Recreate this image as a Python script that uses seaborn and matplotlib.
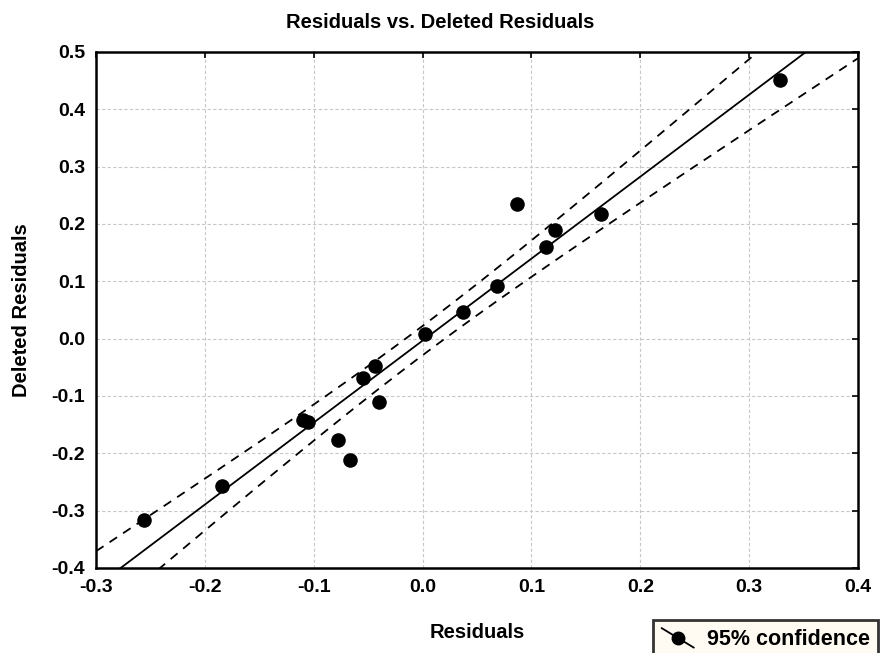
import numpy as np
import pandas as pd
import matplotlib
matplotlib.use("Agg")
import matplotlib.pyplot as plt
import seaborn as sns
from matplotlib.lines import Line2D
from matplotlib.legend_handler import HandlerBase

# ====================== DATA =======================
residuals = [-0.256, -0.184, -0.110, -0.105, -0.078, -0.067, -0.0545, -0.0435, -0.040,
             0.002, 0.037, 0.0685, 0.087, 0.113, 0.1215, 0.164, 0.328]
deleted = [-0.317, -0.257, -0.142, -0.146, -0.177, -0.212, -0.0695, -0.048, -0.111,
           0.0073, 0.0457, 0.0916, 0.2347, 0.160, 0.189, 0.2173, 0.451]
x_ticks = [-0.3, -0.2, -0.1, 0.0, 0.1, 0.2, 0.3, 0.4]
y_ticks = [-0.4, -0.3, -0.2, -0.1, 0.0, 0.1, 0.2, 0.3, 0.4, 0.5]
T_CRIT = 2.131  # t(0.975, df=15)

df = pd.DataFrame({"Residuals": residuals, "Deleted": deleted})

# ====================== FIT + 95% BAND =======================
x = df["Residuals"].to_numpy()
y = df["Deleted"].to_numpy()
n = len(x)
slope, intercept = np.polyfit(x, y, 1)
s = np.sqrt(np.sum((y - (slope * x + intercept)) ** 2) / (n - 2))
sxx = np.sum((x - x.mean()) ** 2)
xg = np.linspace(-0.3, 0.4, 200)
yg = slope * xg + intercept
half = T_CRIT * s * np.sqrt(1 / n + (xg - x.mean()) ** 2 / sxx)

# ====================== PLOT =======================
sns.set_style("white")
plt.rcParams["font.family"] = ["Liberation Sans", "DejaVu Sans"]
plt.rcParams["font.weight"] = "bold"
plt.rcParams["text.color"] = "black"
plt.rcParams["axes.labelcolor"] = "black"

fig = plt.figure(figsize=(8.8, 6.53), dpi=100)
ax = fig.add_axes([0.1091, 0.1302, 0.8659, 0.7902])

ax.plot(xg, yg, color="black", lw=1.3, zorder=3)
ax.plot(xg, yg + half, color="black", lw=1.3, ls=(0, (5, 4)), zorder=3)
ax.plot(xg, yg - half, color="black", lw=1.3, ls=(0, (5, 4)), zorder=3)
sns.scatterplot(data=df, x="Residuals", y="Deleted", color="black", s=110,
                edgecolor="black", linewidth=0, ax=ax, zorder=4, legend=False)

ax.set_xlim(-0.3, 0.4)
ax.set_ylim(-0.4, 0.5)
ax.set_xticks(x_ticks)
ax.set_yticks(y_ticks)
ax.set_xticklabels([f"{v:.1f}" for v in x_ticks], fontsize=14, fontweight="bold")
ax.set_yticklabels([f"{v:.1f}" for v in y_ticks], fontsize=14, fontweight="bold")
ax.tick_params(direction="in", length=4, width=1.2, top=True, right=True, colors="black", pad=8)
ax.grid(True, color="#c8c8c8", ls=(0, (3, 2)), lw=0.8)
for sp in ax.spines.values():
    sp.set_color("black")
    sp.set_linewidth(1.8)

fig.text(0.5, 1 - 22 / 653, "Residuals vs. Deleted Residuals", ha="center", va="center",
         fontsize=14.5, fontweight="bold", color="black")
ax.set_xlabel("Residuals", fontsize=14.5, fontweight="bold", color="black")
ax.set_ylabel("Deleted Residuals", fontsize=14.5, fontweight="bold", color="black")
ax.xaxis.set_label_coords(0.5, -0.106)
ax.yaxis.set_label_coords(-0.085, 0.5)


class DiagHandler(HandlerBase):
    def create_artists(self, legend, orig, xd, yd, w, h, fontsize, trans):
        ln = Line2D([xd, xd + w], [yd + h * 1.1, yd - h * 0.2], color="black", lw=1.3, transform=trans)
        dot = Line2D([xd + w * 0.5], [yd + h * 0.45], marker="o", ms=9, color="black", transform=trans)
        return [ln, dot]


handle = Line2D([], [], color="black", marker="o")
leg = fig.legend([handle], ["95% confidence"], handler_map={Line2D: DiagHandler()},
                 loc="upper left", bbox_to_anchor=(0.742, 0.0505), borderaxespad=0,
                 frameon=True, fancybox=False, prop={"weight": "bold", "size": 15.5},
                 handlelength=1.5, handletextpad=0.6, borderpad=0.4, labelcolor="black")
leg.get_frame().set_facecolor("#fffbf0")
leg.get_frame().set_edgecolor("black")
leg.get_frame().set_linewidth(2)

fig.savefig("out.png", dpi=100)
